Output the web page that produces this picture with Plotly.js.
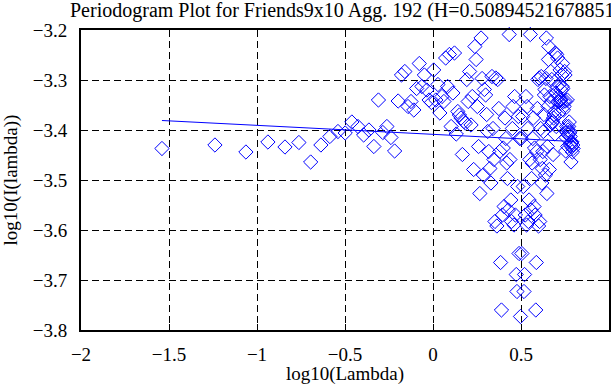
<!DOCTYPE html>
<html>
<head>
<meta charset="utf-8">
<script src="https://cdn.plot.ly/plotly-3.0.1.min.js"></script>
<style>html,body{margin:0;padding:0;background:#fff;}#chart{width:611px;height:385px;}</style>
</head>
<body>
<div id="chart"></div>
<script>
// log10 of the Fourier frequencies (x) and log10 of the periodogram (y)
const logLambda = [
-1.540,-1.239,-1.063,-0.938,-0.841,-0.762,-0.695,-0.637,-0.586,-0.540,
-0.499,-0.461,-0.426,-0.394,-0.364,-0.336,-0.310,-0.285,-0.262,-0.239,
-0.218,-0.198,-0.179,-0.160,-0.142,-0.125,-0.109,-0.093,-0.078,-0.063,
-0.049,-0.035,-0.022,-0.009,0.004,0.016,0.028,0.039,0.051,0.062,
0.072,0.083,0.093,0.103,0.113,0.122,0.132,0.141,0.150,0.159,
0.167,0.176,0.184,0.192,0.200,0.208,0.216,0.223,0.231,0.238,
0.245,0.252,0.259,0.266,0.273,0.279,0.286,0.292,0.299,0.305,
0.311,0.317,0.323,0.329,0.335,0.341,0.346,0.352,0.357,0.363,
0.368,0.374,0.379,0.384,0.389,0.394,0.399,0.404,0.409,0.414,
0.419,0.423,0.428,0.433,0.437,0.442,0.446,0.451,0.455,0.460,
0.464,0.468,0.473,0.477,0.481,0.485,0.489,0.493,0.497,0.501,
0.505,0.509,0.513,0.517,0.520,0.524,0.528,0.532,0.535,0.539,
0.542,0.546,0.550,0.553,0.557,0.560,0.563,0.567,0.570,0.574,
0.577,0.580,0.584,0.587,0.590,0.593,0.596,0.600,0.603,0.606,
0.609,0.612,0.615,0.618,0.621,0.624,0.627,0.630,0.633,0.636,
0.639,0.642,0.644,0.647,0.650,0.653,0.656,0.658,0.661,0.664,
0.667,0.669,0.672,0.675,0.677,0.680,0.682,0.685,0.688,0.690,
0.693,0.695,0.698,0.700,0.703,0.705,0.708,0.710,0.713,0.715,
0.717,0.720,0.722,0.725,0.727,0.729,0.732,0.734,0.736,0.738,
0.741,0.743,0.745,0.748,0.750,0.752,0.754,0.756,0.759,0.761,
0.763,0.765,0.767,0.769,0.771,0.774,0.776,0.778,0.780,0.782,
0.784,0.786,0.788,0.790,0.792,0.794,0.796];

const logI = [
-3.437,-3.430,-3.444,-3.424,-3.434,-3.425,-3.464,-3.430,-3.413,-3.403,
-3.406,-3.384,-3.393,-3.410,-3.400,-3.433,-3.340,-3.405,-3.393,-3.415,
-3.442,-3.342,-3.290,-3.283,-3.353,-3.343,-3.360,-3.317,-3.267,-3.313,
-3.290,-3.320,-3.340,-3.345,-3.280,-3.340,-3.309,-3.366,-3.333,-3.343,
-3.256,-3.313,-3.249,-3.393,-3.326,-3.246,-3.408,-3.363,-3.370,-3.376,
-3.449,-3.383,-3.386,-3.299,-3.343,-3.283,-3.390,-3.333,-3.479,-3.233,
-3.259,-3.353,-3.433,-3.527,-3.216,-3.297,-3.490,-3.319,-3.330,-3.369,
-3.403,-3.443,-3.477,-3.506,-3.293,-3.397,-3.459,-3.583,-3.296,-3.592,
-3.299,-3.357,-3.443,-3.665,-3.760,-3.570,-3.436,-3.553,-3.376,-3.417,
-3.466,-3.497,-3.560,-3.209,-3.459,-3.540,-3.583,-3.397,-3.353,-3.590,
-3.333,-3.570,-3.689,-3.723,-3.513,-3.373,-3.647,-3.417,-3.773,-3.417,
-3.647,-3.373,-3.513,-3.723,-3.689,-3.570,-3.333,-3.590,-3.353,-3.397,
-3.583,-3.540,-3.459,-3.209,-3.560,-3.497,-3.466,-3.417,-3.376,-3.553,
-3.436,-3.570,-3.760,-3.665,-3.443,-3.357,-3.299,-3.592,-3.296,-3.583,
-3.459,-3.397,-3.293,-3.506,-3.477,-3.443,-3.403,-3.369,-3.330,-3.319,
-3.490,-3.297,-3.216,-3.527,-3.433,-3.353,-3.259,-3.233,-3.479,-3.333,
-3.390,-3.283,-3.343,-3.299,-3.386,-3.383,-3.449,-3.376,-3.370,-3.363,
-3.408,-3.246,-3.326,-3.393,-3.249,-3.313,-3.256,-3.343,-3.333,-3.366,
-3.309,-3.340,-3.280,-3.345,-3.340,-3.320,-3.290,-3.313,-3.267,-3.317,
-3.360,-3.343,-3.353,-3.283,-3.290,-3.342,-3.442,-3.415,-3.393,-3.405,
-3.340,-3.433,-3.400,-3.410,-3.393,-3.384,-3.406,-3.403,-3.413,-3.430,
-3.464,-3.425,-3.434,-3.424,-3.444,-3.430,-3.437];

// least-squares fit line end points
const fitX = [-1.540, 0.796];
const fitY = [-3.381, -3.423];

const titleText = 'Periodogram Plot for Friends9x10 Agg. 192 (H=0.508945216788513)';
const xTitle = 'log10(Lambda)';
const yTitle = 'log10(I(lambda))';

const FONT = 'Liberation Serif, Times New Roman, serif';

const traces = [
  {
    x: logLambda, y: logI, type: 'scatter', mode: 'markers',
    marker: {symbol: 'diamond-open', size: 11, color: '#0000ff', line: {width: 1, color: '#0000ff'}},
    cliponaxis: false, hoverinfo: 'none'
  },
  {
    x: fitX, y: fitY, type: 'scatter', mode: 'lines',
    line: {color: '#0000ff', width: 1}, hoverinfo: 'none'
  }
];

const axisCommon = {
  showline: true, mirror: 'allticks', linecolor: '#000', linewidth: 2,
  ticks: 'inside', ticklen: 6, tickwidth: 1, tickcolor: '#000',
  showgrid: true, gridcolor: '#000', gridwidth: 1, griddash: '7px,4px',
  zeroline: false, automargin: false,
  tickfont: {family: FONT, size: 19, color: '#000'}
};

const layout = {
  width: 611, height: 385,
  margin: {l: 81, r: 2, t: 30, b: 55, pad: 0},
  paper_bgcolor: '#fff', plot_bgcolor: '#fff',
  font: {family: FONT, size: 19, color: '#000'},
  showlegend: false,
  title: {
    text: titleText, font: {family: FONT, size: 20, color: '#000'},
    xref: 'container', x: 70 / 611, xanchor: 'left',
    yref: 'container', y: 1 - 10 / 385, yanchor: 'middle'
  },
  xaxis: Object.assign({}, axisCommon, {
    range: [-2, 1], tickmode: 'linear', tick0: -2, dtick: 0.5,
    ticklabelstandoff: 6,
    title: {text: xTitle, font: {family: FONT, size: 19, color: '#000'}, standoff: 4}
  }),
  yaxis: Object.assign({}, axisCommon, {
    range: [-3.8, -3.2], tickmode: 'linear', tick0: -3.8, dtick: 0.1,
    ticklabelstandoff: 8,
    title: {text: yTitle, font: {family: FONT, size: 19, color: '#000'}, standoff: 10}
  })
};

Plotly.newPlot('chart', traces, layout, {staticPlot: true, displayModeBar: false});
</script>
</body>
</html>
